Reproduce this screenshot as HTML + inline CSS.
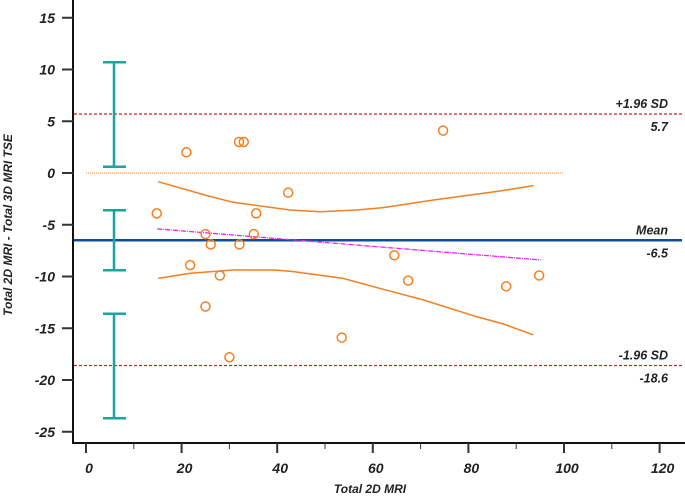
<!DOCTYPE html>
<html><head><meta charset="utf-8"><style>
html,body{margin:0;padding:0;background:#fff;}
svg{display:block;font-family:"Liberation Sans",Arial,sans-serif;font-weight:bold;font-style:italic;}
</style></head><body>
<svg id="chart" width="685" height="496" viewBox="0 0 685 496"></svg>
<script>
const xs=[21,32,33,74.7,42.3,14.8,35.6,25,35.1,26.1,32.1,64.5,21.8,28,67.4,87.9,94.8,25,53.5,30];
const ys=[2,3,3,4.1,-1.9,-3.9,-3.9,-5.9,-5.9,-6.9,-6.9,-7.95,-8.9,-9.9,-10.4,-10.95,-9.9,-12.9,-15.9,-17.8];
const meanVal=-6.5, upperLoA=5.7, lowerLoA=-18.6;
const errBars=[[0.6,10.7],[-9.4,-3.6],[-23.7,-13.6]];
const regX=[14.9,95.1], regY=[-5.4,-8.4];
const ciUpX=[15.1,25.6,30.8,42.7,49,56.6,62.2,72.7,86.6,93.6];
const ciUpY=[-0.84,-2.22,-2.83,-3.58,-3.74,-3.58,-3.35,-2.61,-1.74,-1.22];
const ciLoX=[15.1,21.8,30.8,39.5,43.4,53.8,62.2,70.6,81.7,87.3,93.6];
const ciLoY=[-10.18,-9.69,-9.37,-9.37,-9.53,-10.18,-11.24,-12.27,-13.88,-14.59,-15.65];
const xTicks=[0,20,40,60,80,100,120];
const yTicks=[15,10,5,0,-5,-10,-15,-20,-25];

const X=v=>86+v*4.78, Y=v=>173-v*10.35;
const svg=document.getElementById('chart');
const NS='http://www.w3.org/2000/svg';
function el(t,a,p){const e=document.createElementNS(NS,t);for(const k in a)e.setAttribute(k,a[k]);(p||svg).appendChild(e);return e;}
function txt(s,a){const e=el('text',a);e.textContent=s;return e;}

let e=el('line',{x1:73,y1:0,x2:73,y2:443,stroke:'#111','stroke-width':2});

e=el('line',{x1:72,y1:443,x2:685,y2:443,stroke:'#111','stroke-width':2});

yTicks.forEach(v=>{
  el('line',{x1:62,y1:Y(v),x2:73,y2:Y(v),stroke:'#333','stroke-width':2});
  e=txt(String(v),{x:55,y:Y(v)+5,'text-anchor':'end','font-size':14,fill:'#222'});
  
});
xTicks.forEach(v=>{
  el('line',{x1:X(v),y1:443,x2:X(v),y2:453,stroke:'#333','stroke-width':2});
  el('line',{x1:X(v+10),y1:443,x2:X(v+10),y2:449,stroke:'#333','stroke-width':1});
  e=txt(String(v),{x:X(v)+3,y:473,'text-anchor':'middle','font-size':14,fill:'#222'});
  
});
e=txt('Total 2D MRI',{x:370,y:493,'text-anchor':'middle','font-size':12,fill:'#222'});

e=txt('Total 2D MRI - Total 3D MRI TSE',{x:0,y:0,transform:'translate(12,225) rotate(-90)','text-anchor':'middle','font-size':12,fill:'#222'});


e=el('line',{x1:74,y1:Y(upperLoA),x2:682,y2:Y(upperLoA),stroke:'#c0282d','stroke-width':1.2,'stroke-dasharray':'3,2'});

e=el('line',{x1:74,y1:Y(lowerLoA),x2:682,y2:Y(lowerLoA),stroke:'#c0282d','stroke-width':1.2,'stroke-dasharray':'3,2'});

e=el('line',{x1:86,y1:Y(0),x2:X(100),y2:Y(0),stroke:'#f4a060','stroke-width':1.2,'stroke-dasharray':'1,1'});

e=el('line',{x1:74,y1:Y(meanVal),x2:682,y2:Y(meanVal),stroke:'#0b4f9c','stroke-width':2.5});


[['+1.96 SD',upperLoA,-6],[upperLoA.toFixed(1),upperLoA,17],['Mean',meanVal,-6],[meanVal.toFixed(1),meanVal,17],['-1.96 SD',lowerLoA,-6],[lowerLoA.toFixed(1),lowerLoA,17]].forEach(r=>{
  e=txt(r[0],{x:668,y:Y(r[1])+r[2],'text-anchor':'end','font-size':12.5,fill:'#222'});
  
});

errBars.forEach(b=>{
  const g=el('g',{stroke:'#1aa3a3','stroke-width':2.5});
  
  el('line',{x1:114,y1:Y(b[0]),x2:114,y2:Y(b[1])},g);
  el('line',{x1:103,y1:Y(b[0]),x2:126,y2:Y(b[0])},g);
  el('line',{x1:103,y1:Y(b[1]),x2:126,y2:Y(b[1])},g);
});

e=el('line',{x1:X(regX[0]),y1:Y(regY[0]),x2:X(regX[1]),y2:Y(regY[1]),stroke:'#ee22ee','stroke-width':1.3,'stroke-dasharray':'5,1,1,1'});

function poly(xa,ya,name){const p=xa.map((v,i)=>X(v)+','+Y(ya[i])).join(' ');
  const q=el('polyline',{points:p,fill:'none',stroke:'#f57f20','stroke-width':1.5});
  }
poly(ciUpX,ciUpY,'upper-ci-curve');
poly(ciLoX,ciLoY,'lower-ci-curve');

xs.forEach((v,i)=>{
  const c=el('circle',{cx:X(v),cy:Y(ys[i]),r:4.5,fill:'none',stroke:'#f57f20','stroke-width':1.5});
  
  
});
</script>
</body></html>
